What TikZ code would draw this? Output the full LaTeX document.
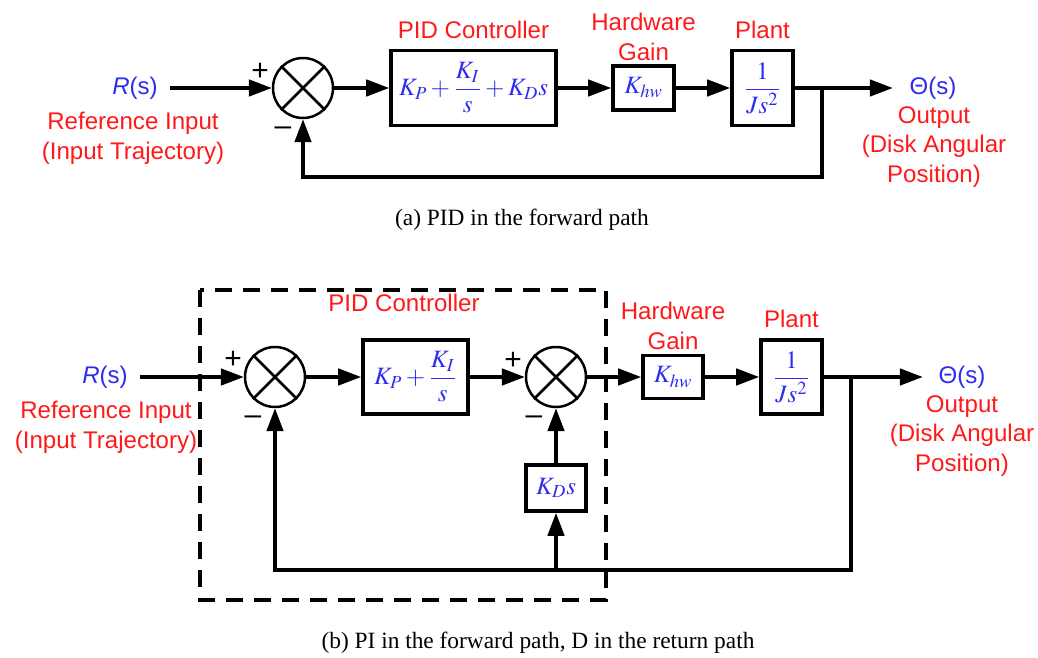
\documentclass[tikz,border=0pt]{standalone}
\usepackage{amsmath}
\usepackage{mathptmx}
\usepackage{fontspec}
\setmainfont{Liberation Serif}
\newfontfamily\lblfont{Liberation Sans}
\usetikzlibrary{
    arrows.meta,
    positioning,
    calc
}
\definecolor{lblred}{RGB}{255,25,25}
\definecolor{sigblue}{RGB}{45,45,240}

\begin{document}
\begin{tikzpicture}[
    x=0.02cm, y=-0.02cm,
    sumnode/.style={circle, draw, line width=0.05cm, minimum size=1.2cm, inner sep=0pt},
    block/.style={rectangle, draw, line width=0.075cm, inner sep=1pt, text=sigblue, font=\fontsize{14.2}{17}\selectfont},
    lbl/.style={font=\lblfont\fontsize{13.7}{17}\selectfont, text=lblred, align=center, inner sep=0pt},
    sig/.style={font=\lblfont\fontsize{13.7}{17}\selectfont, text=sigblue, inner sep=0.23cm},
    sgn/.style={font=\lblfont\fontsize{17}{17}\selectfont, inner sep=0pt},
    caption/.style={font=\fontsize{13.3}{16}\selectfont, inner sep=0pt},
    arrow/.style={-{Triangle[length=0.46cm, width=0.33cm]}, line width=0.065cm},
    wire/.style={line width=0.065cm},
]
\useasboundingbox (0,0) rectangle (1038,658);

% (a) PID in the forward path
\node[sig] (ra) at (135,88) {\textit{R}(s)};
\node[sumnode] (sa) at (303,88) {};
\node[block, minimum width=3.3cm, minimum height=1.5cm] (pida) at (473.5,88) {$\displaystyle K_P+\frac{K_I}{s}+K_Ds$};
\node[block, minimum width=1.22cm, minimum height=0.88cm] (hwa) at (643.5,88) {$K_{hw}$};
\node[block, minimum width=1.22cm, minimum height=1.5cm] (pla) at (762.5,88) {$\displaystyle\frac{1}{Js^2}$};
\node[sig, inner xsep=0.33cm] (tha) at (933,88) {Θ(s)};
\coordinate (ba) at (822,88);
\coordinate (fa) at (822,177);

\draw[arrow] (ra) -- (sa);
\draw[arrow] (sa) -- (pida);
\draw[arrow] (pida) -- (hwa);
\draw[arrow] (hwa) -- (pla);
\draw[arrow] (pla) -- (tha);
\draw[arrow] (ba) -- (fa) -| (sa.south);

\node[lbl, above=0.2cm of pida] (pidlbla) {PID Controller};
\node[lbl, above=0.07cm of hwa] (hwlbla) {Hardware\\Gain};
\node[lbl, above=0.2cm of pla] (pllbla) {Plant};
\node[lbl] (rlbla) at (133,138) {Reference Input\\(Input Trajectory)};
\node[lbl] (tlbla) at (934,147) {Output\\(Disk Angular\\Position)};
\node[sgn] (pa) at (260,72) {+};
\node[sgn] (ma) at (283,131) {\textendash};
\node[caption] (capa) at (522,220) {(a) PID in the forward path};

% (b) PI in the forward path, D in the return path
\draw[wire, dash pattern=on 0.34cm off 0.22cm] (200,290) rectangle (606,600);
\node[sig] (rb) at (105,377) {\textit{R}(s)};
\node[sumnode] (sb) at (275,377) {};
\node[block, minimum width=2.1cm, minimum height=1.48cm] (pib) at (415.5,377) {$\displaystyle K_P+\frac{K_I}{s}$};
\node[sumnode] (sc) at (556,377) {};
\node[block, minimum width=1.2cm, minimum height=0.92cm] (kdb) at (556,488) {$K_Ds$};
\node[block, minimum width=1.2cm, minimum height=0.86cm] (hwb) at (673,377) {$K_{hw}$};
\node[block, minimum width=1.22cm, minimum height=1.48cm] (plb) at (791.5,377) {$\displaystyle\frac{1}{Js^2}$};
\node[sig, inner xsep=0.31cm] (thb) at (962,377) {Θ(s)};
\coordinate (bb) at (851,377);
\coordinate (fb) at (851,570);

\draw[arrow] (rb) -- (sb);
\draw[arrow] (sb) -- (pib);
\draw[arrow] (pib) -- (sc);
\draw[arrow] (sc) -- (hwb);
\draw[arrow] (hwb) -- (plb);
\draw[arrow] (plb) -- (thb);
\draw[arrow] (bb) -- (fb) -| (sb.south);
\draw[arrow] (kdb |- fb) -- (kdb);
\draw[arrow] (kdb) -- (sc);

\node[lbl] (pidlblb) at (404,303) {PID Controller};
\node[lbl, above=0.07cm of hwb] (hwlblb) {Hardware\\Gain};
\node[lbl, above=0.2cm of plb] (pllblb) {Plant};
\node[lbl] (rlblb) at (106,427) {Reference Input\\(Input Trajectory)};
\node[lbl] (tlblb) at (962,436) {Output\\(Disk Angular\\Position)};
\node[sgn] (pb) at (233,360) {+};
\node[sgn] (mb) at (253,420) {\textendash};
\node[sgn] (pc) at (513,361) {+};
\node[sgn] (mc) at (534,420) {\textendash};
\node[caption] (capb) at (538,643) {(b) PI in the forward path, D in the return path};

\foreach \s in {sa,sb,sc}
    \draw[line width=0.05cm] (\s.north west) -- (\s.south east) (\s.north east) -- (\s.south west);
\end{tikzpicture}
\end{document}
